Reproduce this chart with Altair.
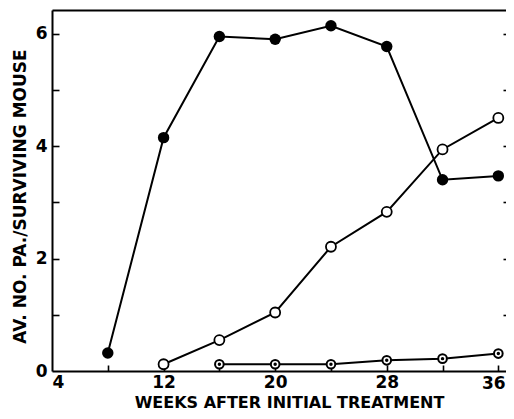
import altair as alt
import pandas as pd

# ---- data ----
weeks_filled = [8, 12, 16, 20, 24, 28, 32, 36]
vals_filled = [0.32, 4.15, 5.95, 5.90, 6.14, 5.77, 3.40, 3.47]

weeks_open = [12, 16, 20, 24, 28, 32, 36]
vals_open = [0.12, 0.55, 1.04, 2.21, 2.83, 3.94, 4.50]

weeks_dot = [16, 20, 24, 28, 32, 36]
vals_dot = [0.12, 0.12, 0.12, 0.19, 0.22, 0.31]

x_label_values = [4, 12, 20, 28]
x_last_label = [36]
x_tick_values = [8, 12, 16, 20, 24, 28, 32, 36]
y_label_values = [0, 2, 4, 6]
y_tick_values = [1, 2, 3, 4, 5, 6]

rows = []
for s, ws, vs in [("filled", weeks_filled, vals_filled),
                  ("open", weeks_open, vals_open),
                  ("dot", weeks_dot, vals_dot)]:
    for w, v in zip(ws, vs):
        rows.append({"series": s, "week": w, "value": v})
df = pd.DataFrame(rows)

FONT = "DejaVu Sans"
W, H = 454, 361

xs = alt.Scale(domain=[4, 36.55], nice=False, zero=False)
ys = alt.Scale(domain=[0, 6.42], nice=False, zero=False)

label_style = dict(labelFont=FONT, labelFontSize=17, labelFontWeight="bold",
                   labelColor="black")

x_main = alt.Axis(orient="bottom", values=x_label_values, ticks=False, grid=False,
                  domain=True, domainColor="black", domainWidth=2, labelPadding=3,
                  title="WEEKS AFTER INITIAL TREATMENT", titleFont=FONT, titleFontSize=16,
                  titleFontWeight="bold", titleColor="black",
                  titleX=237, titleY=36.5, titleAlign="center", titleBaseline="alphabetic",
                  **label_style)
y_main = alt.Axis(orient="left", values=y_label_values, ticks=False, grid=False,
                  domain=True, domainColor="black", domainWidth=2, labelPadding=5,
                  title="AV. NO. PA./SURVIVING MOUSE", titleFont=FONT, titleFontSize=17,
                  titleFontWeight="bold", titleColor="black",
                  titleX=-27, titleY=186, titleAlign="center", titleBaseline="alphabetic",
                  titleAngle=270, **label_style)

x_ticks = alt.Axis(orient="bottom", values=x_tick_values, offset=-6, tickSize=6,
                   tickWidth=1.6, tickColor="black", domain=False, labels=False,
                   title=None, grid=False)
y_ticks = alt.Axis(orient="left", values=y_tick_values, offset=-7, tickSize=7,
                   tickWidth=1.6, tickColor="black", domain=False, labels=False,
                   title=None, grid=False)

x_top = alt.Axis(orient="top", ticks=False, labels=False, domain=True,
                 domainColor="black", domainWidth=2, title=None, grid=False)
y_right = alt.Axis(orient="right", values=y_tick_values, offset=-3, tickSize=3,
                   tickWidth=1.6, tickColor="black", domain=False, labels=False,
                   title=None, grid=False)

x_last = alt.Axis(orient="bottom", values=x_last_label, ticks=False, domain=False,
                  grid=False, title=None, labelPadding=4, labelOffset=-5, **label_style)

base = alt.Chart(df)

lines = base.mark_line(color="black", strokeWidth=2).encode(
    x=alt.X("week:Q", scale=xs, axis=x_main),
    y=alt.Y("value:Q", scale=ys, axis=y_main),
    detail="series:N",
)

filled_pts = base.transform_filter(alt.datum.series == "filled").mark_point(
    filled=True, shape="circle", size=130, color="black", opacity=1
).encode(
    x=alt.X("week:Q", scale=xs, axis=x_ticks),
    y=alt.Y("value:Q", scale=ys, axis=y_ticks),
)

open_pts = base.transform_filter(alt.datum.series == "open").mark_point(
    shape="circle", size=100, fill="white", stroke="black", strokeWidth=1.8, opacity=1,
    fillOpacity=1
).encode(
    x=alt.X("week:Q", scale=xs, axis=x_top),
    y=alt.Y("value:Q", scale=ys, axis=y_right),
)

dot_rings = base.transform_filter(alt.datum.series == "dot").mark_point(
    shape="circle", size=75, fill="white", stroke="black", strokeWidth=2, opacity=1,
    fillOpacity=1
).encode(
    x=alt.X("week:Q", scale=xs, axis=x_last),
    y=alt.Y("value:Q", scale=ys, axis=None),
)

dot_centres = base.transform_filter(alt.datum.series == "dot").mark_point(
    filled=True, shape="circle", size=12, color="black", opacity=1
).encode(
    x=alt.X("week:Q", scale=xs, axis=None),
    y=alt.Y("value:Q", scale=ys, axis=None),
)

chart = alt.layer(lines, filled_pts, open_pts, dot_rings, dot_centres).resolve_axis(
    x="independent", y="independent"
).properties(
    width=W, height=H,
    autosize=alt.AutoSizeParams(type="none"),
    padding={"left": 44, "top": 2, "right": 0, "bottom": 40},
).configure_view(stroke=None).configure(background="white")

chart.save("out.html", embed_options={"renderer": "svg", "actions": False})
